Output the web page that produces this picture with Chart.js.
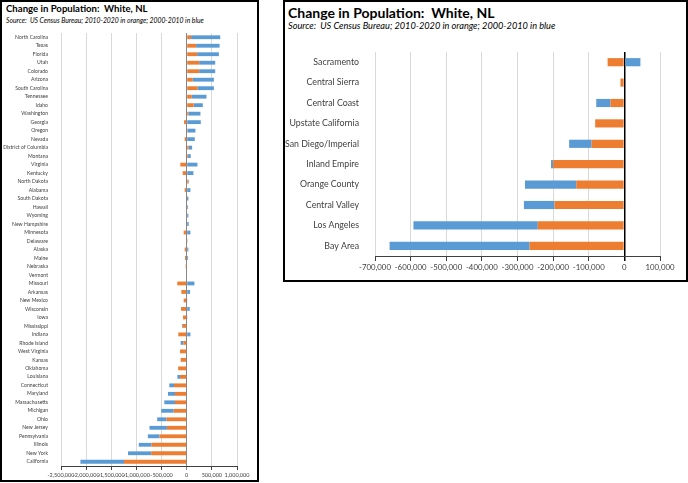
<!DOCTYPE html>
<html>
<head>
    <title>Change in Population: White, NL</title>
    <script src="https://cdn.jsdelivr.net/npm/chart.js"></script>
    <style>
        body { margin: 0; background: #fff; font-family: Lato, sans-serif; }
        .panel { position: absolute; border: 2px solid #000; box-sizing: border-box; }
        .title { position: absolute; font-weight: bold; color: #000; white-space: nowrap; }
        .sub { position: absolute; font-style: italic; color: #000; white-space: nowrap; }
        canvas { position: absolute; }
    </style>
</head>
<body>
    <div class="panel" style="left:0; top:0; width:259px; height:482px;"></div>
    <div class="title" style="left:6px; top:3px; font-size:9.6px;">Change in Population:&nbsp; White, NL</div>
    <div class="sub" style="left:6px; top:16px; font-size:6.8px;">Source:&nbsp; US Census Bureau; 2010-2020 in orange; 2000-2010 in blue</div>
    <div style="position:absolute; left:0; top:0; width:259px; height:482px;"><canvas id="statesChart"></canvas></div>

    <div class="panel" style="left:283px; top:0; width:405px; height:282px;"></div>
    <div class="title" style="left:288px; top:4px; font-size:14px;">Change in Population:&nbsp; White, NL</div>
    <div class="sub" style="left:288px; top:20px; font-size:9.2px;">Source:&nbsp; US Census Bureau; 2010-2020 in orange; 2000-2010 in blue</div>
    <div style="position:absolute; left:283px; top:0; width:405px; height:282px;"><canvas id="regionsChart"></canvas></div>

    <script>
        // states, top to bottom
        const states = ['North Carolina', 'Texas', 'Florida', 'Utah', 'Colorado', 'Arizona', 'South Carolina',
            'Tennessee', 'Idaho', 'Washington', 'Georgia', 'Oregon', 'Nevada', 'District of Columbia', 'Montana',
            'Virginia', 'Kentucky', 'North Dakota', 'Alabama', 'South Dakota', 'Hawaii', 'Wyoming', 'New Hampshire',
            'Minnesota', 'Delaware', 'Alaska', 'Maine', 'Nebraska', 'Vermont', 'Missouri', 'Arkansas', 'New Mexico',
            'Wisconsin', 'Iowa', 'Mississippi', 'Indiana', 'Rhode Island', 'West Virginia', 'Kansas', 'Oklahoma',
            'Louisiana', 'Connecticut', 'Maryland', 'Massachusetts', 'Michigan', 'Ohio', 'New Jersey', 'Pennsylvania',
            'Illinois', 'New York', 'California'];
        const statesOrange = [87000, 187000, 207000, 247000, 247000, 120000, 213000, 100000, 140000, 33000,
            -53000, 15000, -40000, 40000, 27000, -127000, -80000, 33000, -40000, 5000, 3000, -13000, -13000,
            -60000, 3000, -40000, -33000, -20000, -10000, -187000, -107000, -60000, -113000, -73000, -80000,
            -167000, -67000, -133000, -120000, -170000, -133000, -253000, -233000, -233000, -260000, -400000,
            -393000, -540000, -700000, -707000, -1247000];
        const statesBlue = [580000, 467000, 433000, 320000, 320000, 420000, 327000, 293000, 180000, 240000,
            280000, 158000, 160000, 67000, 53000, 213000, 133000, 10000, 73000, 28000, 17000, 33000, 40000,
            73000, 5000, 33000, 27000, 0, 0, 153000, 67000, 7000, 60000, 5000, -15000, 73000, -53000, 0, 0, 0,
            -53000, -93000, -140000, -213000, -247000, -187000, -347000, -233000, -253000, -460000, -867000];

        // California regions, top to bottom
        const regions = ['Sacramento', 'Central Sierra', 'Central Coast', 'Upstate California', 'San Diego/Imperial',
            'Inland Empire', 'Orange County', 'Central Valley', 'Los Angeles', 'Bay Area'];
        const regionsOrange = [-47000, -11000, -39000, -82000, -92000, -200000, -135000, -196000, -243000, -266000];
        const regionsBlue = [45000, 0, -40000, 0, -63000, -6000, -144000, -86000, -349000, -393000];

        const ORANGE = '#ED7D31';
        const BLUE = '#5B9BD5';

        function makeChart(id, labels, orange, blue, o) {
            return new Chart(document.getElementById(id), {
                type: 'bar',
                data: {
                    labels: labels,
                    datasets: [
                        { label: '2010-2020', data: orange, backgroundColor: ORANGE, barPercentage: o.bar, categoryPercentage: 1 },
                        { label: '2000-2010', data: blue, backgroundColor: BLUE, barPercentage: o.bar, categoryPercentage: 1 }
                    ]
                },
                options: {
                    indexAxis: 'y',
                    responsive: true,
                    maintainAspectRatio: false,
                    animation: false,
                    layout: { padding: { left: 0, right: o.right, top: o.top, bottom: 0 } },
                    plugins: { legend: { display: false }, tooltip: { enabled: false } },
                    scales: {
                        x: {
                            stacked: true,
                            min: o.min,
                            max: o.max,
                            afterFit: s => { s.height = o.xh; },
                            ticks: {
                                stepSize: o.step,
                                autoSkip: false,
                                maxRotation: 0,
                                padding: 2,
                                color: '#404040',
                                font: { family: 'Lato', size: o.tick },
                                callback: v => v.toLocaleString('en-US')
                            },
                            grid: {
                                color: c => c.tick && c.tick.value === 0 ? o.zero : '#D9D9D9',
                                lineWidth: c => c.tick && c.tick.value === 0 ? o.zeroW : 1,
                                tickColor: c => c.tick && c.tick.value === 0 ? o.zero : '#404040',
                                tickLength: o.tl
                            },
                            border: { display: true, color: '#404040', width: 1 }
                        },
                        y: {
                            stacked: true,
                            afterFit: s => { s.width = o.yw; },
                            ticks: {
                                autoSkip: false,
                                color: '#404040',
                                padding: o.lp,
                                font: { family: 'Lato', size: o.label }
                            },
                            grid: { display: false },
                            border: { display: false }
                        }
                    }
                }
            });
        }

        makeChart('statesChart', states, statesOrange, statesBlue, {
            bar: 0.45, right: 22, top: 33, min: -2500000, max: 1000000, step: 500000,
            xh: 16, tick: 5.5, label: 5.1, yw: 61, lp: 5, tl: 4, zero: '#868686', zeroW: 1
        });
        makeChart('regionsChart', regions, regionsOrange, regionsBlue, {
            bar: 0.4, right: 28, top: 52, min: -700000, max: 100000, step: 100000,
            xh: 26, tick: 7.8, label: 8.8, yw: 92, lp: 8, tl: 5, zero: '#000', zeroW: 1.5
        });
    </script>
</body>
</html>
